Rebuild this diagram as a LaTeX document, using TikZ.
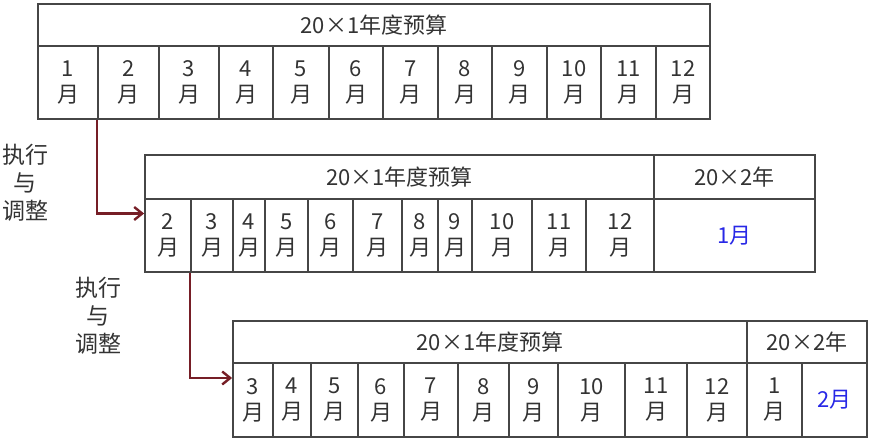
\documentclass[tikz,border=0pt]{standalone}
\usepackage{fontspec}
\setmainfont{Noto Sans CJK SC}
\usetikzlibrary{arrows.meta}

\definecolor{linegray}{RGB}{70,70,70}
\definecolor{flowred}{RGB}{118,30,38}
\definecolor{monthblue}{RGB}{40,40,230}

\begin{document}
\begin{tikzpicture}[x=1pt, y=-1pt,
  every node/.style={font=\fontsize{22}{26}\selectfont},
  cell/.style={draw=linegray, line width=1.8pt, inner sep=0pt, align=center, text=black!80},
  current/.style={cell, text=monthblue},
  note/.style={align=center, font=\fontsize{23}{28}\selectfont, text=black!80},
  flow/.style={-{Straight Barb[length=8pt, width=13pt]}, line width=2.4pt, draw=flowred}
]
\useasboundingbox (0,0) rectangle (871,439);

% === TABLE 1: original budget ===
\node[cell, minimum width=672pt, minimum height=42pt] (t1head) at (374,25) {20×1年度预算};
\foreach \m/\l/\r in {1/38/98, 2/98/159, 3/159/219, 4/219/273, 5/273/329, 6/329/383,
    7/383/438, 8/438/492, 9/492/547, 10/547/601, 11/601/656, 12/656/710}
  \node[cell, minimum width={(\r-\l)*1pt}, minimum height=73pt] (t1m\m) at ({(\l+\r)/2},82.5) {\m\\月};

% === TABLE 2: rolled one month ===
\node[cell, minimum width=509pt, minimum height=44pt] (t2head) at (399.5,177) {20×1年度预算};
\node[cell, minimum width=161pt, minimum height=44pt] (t2next) at (734.5,177) {20×2年};
\foreach \m/\l/\r in {2/145/191, 3/191/233, 4/233/265, 5/265/308, 6/308/353, 7/353/402,
    8/402/438, 9/438/472, 10/472/532, 11/532/586, 12/586/654}
  \node[cell, minimum width={(\r-\l)*1pt}, minimum height=73pt] (t2m\m) at ({(\l+\r)/2},235.5) {\m\\月};
\node[current, minimum width=161pt, minimum height=73pt] (t2n1) at (734.5,235.5) {1月};

% === TABLE 3: rolled two months ===
\node[cell, minimum width=514pt, minimum height=42pt] (t3head) at (490,342) {20×1年度预算};
\node[cell, minimum width=120pt, minimum height=42pt] (t3next) at (807,342) {20×2年};
\foreach \m/\l/\r in {3/233/273, 4/273/311, 5/311/358, 6/358/404, 7/404/458, 8/458/509,
    9/509/558, 10/558/625, 11/625/687, 12/687/747}
  \node[cell, minimum width={(\r-\l)*1pt}, minimum height=74pt] (t3m\m) at ({(\l+\r)/2},400) {\m\\月};
\node[cell, minimum width=55pt, minimum height=74pt] (t3n1) at (774.5,400) {1\\月};
\node[current, minimum width=65pt, minimum height=74pt] (t3n2) at (834.5,400) {2月};

% Side notes
\node[note] (adj1) at (25,183) {执行\\与\\调整};
\node[note] (adj2) at (98,316) {执行\\与\\调整};

% Roll-forward arrows
\draw[flow] (t1m2.south west) |- ([yshift=22pt]t2m2.west);
\draw[flow] (t2m3.south west) |- ([yshift=22pt]t3m3.west);

\end{tikzpicture}
\end{document}
